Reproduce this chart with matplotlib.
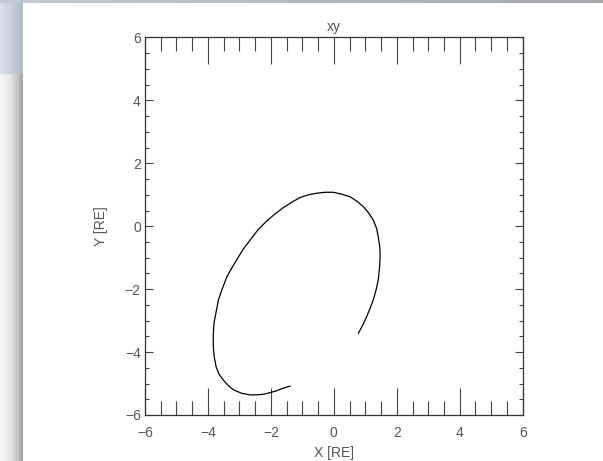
import numpy as np
import matplotlib
matplotlib.use('Agg')
import matplotlib.pyplot as plt
from matplotlib.ticker import MultipleLocator

# orbit track in the xy plane, [RE]
x_re = [0.78, 0.92, 1.04, 1.15, 1.25, 1.34, 1.41, 1.45, 1.47, 1.46,
        1.41, 1.36, 1.25, 1.10, 0.94, 0.73, 0.51, 0.25, -0.02, -0.28,
        -0.54, -0.81, -1.08, -1.34, -1.61, -1.87, -2.13, -2.40, -2.66, -2.88,
        -3.09, -3.25, -3.40, -3.56, -3.67, -3.74, -3.81, -3.83, -3.83, -3.80,
        -3.74, -3.65, -3.51, -3.35, -3.19, -2.93, -2.66, -2.45, -2.24, -2.03,
        -1.82, -1.61, -1.39]
y_re = [-3.40, -3.14, -2.88, -2.61, -2.35, -2.03, -1.71, -1.34, -0.97, -0.65,
        -0.33, -0.07, 0.20, 0.43, 0.62, 0.80, 0.94, 1.02, 1.08, 1.08,
        1.05, 1.00, 0.91, 0.76, 0.59, 0.39, 0.17, -0.10, -0.44, -0.73,
        -1.07, -1.34, -1.61, -2.03, -2.35, -2.72, -3.09, -3.46, -3.83, -4.15,
        -4.47, -4.70, -4.89, -5.07, -5.20, -5.31, -5.36, -5.36, -5.34, -5.29,
        -5.23, -5.15, -5.08]

W, H = 603, 461
fig = plt.figure(figsize=(W / 100, H / 100), dpi=100)
fig.patch.set_facecolor('white')

# window frame behind the plot
bg = np.ones((H, W, 3))
xs = np.linspace(0, 1, 23)[None, :, None]
side_hi = np.array([0.85, 0.89, 0.93]) * (1 - xs) + np.array([0.70, 0.74, 0.79]) * xs
side_lo = np.array([0.96, 0.96, 0.96]) * (1 - xs ** 2) + np.array([0.64, 0.64, 0.64]) * xs ** 2
bg[4:75, :23] = side_hi
bg[75:, :23] = side_lo
top = np.linspace(0, 1, W)[None, :, None]
bg[:4, :] = np.array([0.76, 0.80, 0.85]) * (1 - top) + np.array([0.64, 0.66, 0.68]) * top
bax = fig.add_axes([0, 0, 1, 1])
bax.imshow(bg, aspect='auto', interpolation='bilinear')
bax.axis('off')

plt.rcParams['font.family'] = 'Liberation Sans'
txt_col = '#555555'

ax = fig.add_axes([145 / W, 1 - 415 / H, 377.7 / W, 377.5 / H])
ax.plot(x_re, y_re, color='black', lw=0.9, solid_joinstyle='round')
ax.set_xlim(-6, 6)
ax.set_ylim(-6, 6)
ax.xaxis.set_major_locator(MultipleLocator(2))
ax.xaxis.set_minor_locator(MultipleLocator(0.5))
ax.yaxis.set_major_locator(MultipleLocator(2))
ax.yaxis.set_minor_locator(MultipleLocator(0.5))
ax.tick_params(axis='x', which='major', direction='in', top=True, length=19.5,
               width=0.8, color='#444444', labelsize=10, labelcolor=txt_col, pad=8)
ax.tick_params(axis='x', which='minor', direction='in', top=True, length=10,
               width=0.8, color='#444444')
ax.tick_params(axis='y', which='major', direction='in', right=True, length=5.8,
               width=0.8, color='#444444', labelsize=10, labelcolor=txt_col, pad=3)
ax.tick_params(axis='y', which='minor', direction='in', right=True, length=3.1,
               width=0.8, color='#444444')
for s in ax.spines.values():
    s.set_color('#333333')
    s.set_linewidth(0.9)

ax.set_title('xy', fontsize=10, color=txt_col, pad=5)
ax.set_xlabel('X [RE]', fontsize=10, color=txt_col, labelpad=4)
ax.set_ylabel('Y [RE]', fontsize=10, color=txt_col, labelpad=12)

fig.savefig('out.png', dpi=100)
